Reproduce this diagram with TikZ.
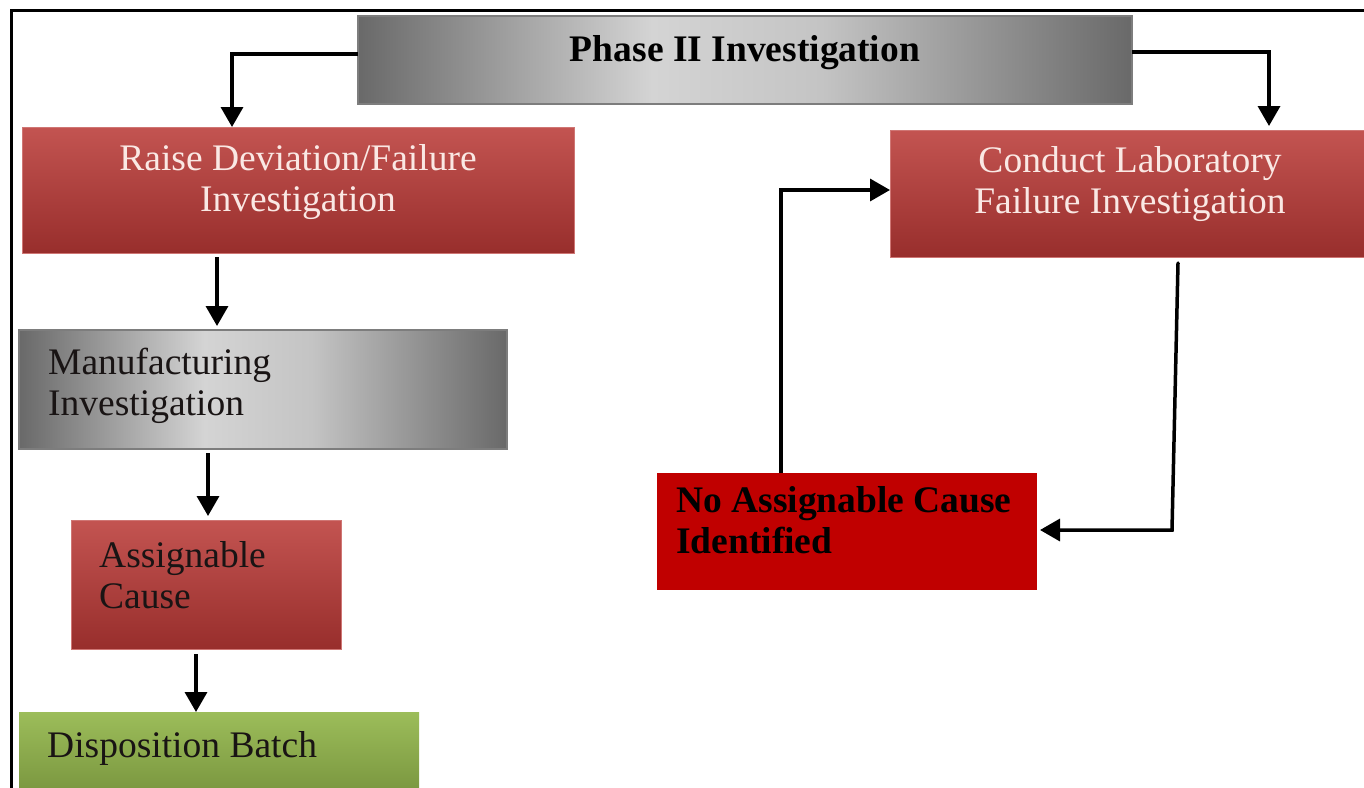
\documentclass[tikz,border=0pt]{standalone}
\usepackage{fontspec}
\setmainfont{Liberation Serif}
\usetikzlibrary{arrows.meta}

\definecolor{redtop}{RGB}{195,84,81}
\definecolor{redbot}{RGB}{152,46,44}
\definecolor{redsolid}{RGB}{192,0,0}
\definecolor{greentop}{RGB}{156,189,90}
\definecolor{greenbot}{RGB}{118,146,60}
\definecolor{metaldark}{RGB}{105,105,105}
\definecolor{metallight}{RGB}{212,212,212}
\definecolor{metaledge}{RGB}{125,125,125}
\definecolor{paletext}{RGB}{250,232,228}
\definecolor{darktext}{RGB}{25,20,20}

% brushed-metal fill (the box spans 25bp..75bp of the shading):
% dark edges, bright band left of centre
\pgfdeclarehorizontalshading{metal}{100bp}{%
  color(0bp)=(metaldark); color(25bp)=(metaldark); color(44bp)=(metallight); color(55bp)=(metallight!85!metaldark); color(75bp)=(metaldark); color(100bp)=(metaldark)}

\tikzset{
  box/.style={rectangle, inner sep=0pt, outer sep=0pt, anchor=north west},
  redbox/.style={box, top color=redtop, bottom color=redbot, draw=redtop!80!white, line width=0.6pt},
  metalbox/.style={box, shading=metal, shading angle=0, draw=metaledge, line width=1.5pt},
  greenbox/.style={box, top color=greentop, bottom color=greenbot},
  flatred/.style={box, fill=redsolid},
  label/.style={inner sep=0pt, font=\fontsize{37.5}{41}\selectfont},
  arr/.style={line width=3.5pt, -{Triangle[length=20pt,width=22pt]}},
}

\begin{document}
\begin{tikzpicture}[x=1pt,y=-1pt]
\useasboundingbox (0,0) rectangle (1364,787);

% page frame (runs off the right and bottom edges)
\draw[line width=3pt] (11,820) -- (11,10) -- (1400,10);

% boxes
\node[metalbox, minimum width=774pt, minimum height=88pt] (phase) at (358,16) {};
\node[redbox, minimum width=552pt, minimum height=126pt] (raise) at (22,127) {};
\node[redbox, minimum width=490pt, minimum height=127pt] (conduct) at (890,130) {};
\node[metalbox, minimum width=488pt, minimum height=119pt] (manuf) at (19,330) {};
\node[redbox, minimum width=270pt, minimum height=129pt] (assign) at (71,520) {};
\node[greenbox, minimum width=400pt, minimum height=90pt] (disp) at (19,712) {};
\node[flatred, minimum width=380pt, minimum height=117pt] (noassign) at (657,473) {};

% texts
\node[label, font=\fontsize{37.5}{41}\selectfont\bfseries] (phase-t) at (745,53) {Phase II Investigation};
\node[label, text=paletext, align=center] (raise-t) at (298,182) {Raise Deviation/Failure\\Investigation};
\node[label, text=paletext, align=center] (conduct-t) at (1130,184) {Conduct Laboratory\\Failure Investigation};
\node[label, text=darktext, align=left, anchor=west] (manuf-t) at (48,386) {Manufacturing\\Investigation};
\node[label, text=darktext, align=left, anchor=west] (assign-t) at (99,575) {Assignable\\Cause};
\node[label, text=darktext, anchor=west] (disp-t) at (47,748) {Disposition Batch};
\node[label, font=\fontsize{37.5}{41}\selectfont\bfseries, align=left, anchor=west] (noassign-t) at (676,520) {No Assignable Cause\\Identified};

% connectors
\coordinate (turn) at (1172,530);
\draw[arr] ([yshift=6pt]phase.west) -| ([xshift=-66pt]raise.north);
\draw[arr] ([yshift=8pt]phase.east) -| ([xshift=134pt,yshift=4pt]conduct.north);
\draw[arr] ([xshift=-81pt,yshift=-4pt]raise.south) -- ([xshift=-81pt,yshift=4pt]raise.south |- manuf.north);
\draw[arr] ([xshift=-55pt,yshift=-4pt]manuf.south) -- ([xshift=-55pt,yshift=4pt]manuf.south |- assign.north);
\draw[arr] ([xshift=-10pt,yshift=-5pt]assign.south) -- ([xshift=-10pt]assign.south |- disp.north);
\draw[arr, line cap=round] ([xshift=43pt,yshift=-6pt]conduct.south) -- (turn) -- ([xshift=3pt]turn -| noassign.east);
\draw[arr] ([xshift=-66pt]noassign.north) |- ([yshift=3.5pt]conduct.west);
\end{tikzpicture}
\end{document}
